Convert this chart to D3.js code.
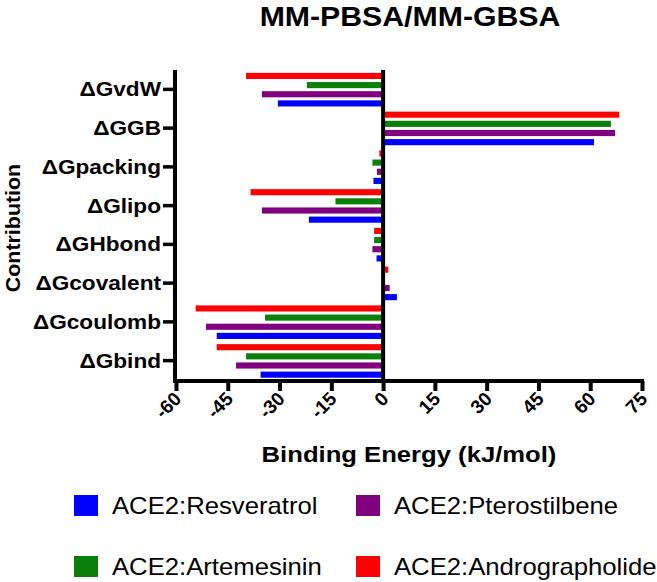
<!DOCTYPE html>
<html>
<head>
<meta charset="utf-8">
<script src="https://cdn.jsdelivr.net/npm/d3@7"></script>
<style>
  html, body { margin: 0; padding: 0; background: #fff; }
  svg { display: block; font-family: "Liberation Sans", Arial, sans-serif; }
</style>
</head>
<body>
<svg id="chart" width="657" height="582"></svg>
<script>
// ---- data ----
const categories = ["ΔGvdW", "ΔGGB", "ΔGpacking", "ΔGlipo", "ΔGHbond", "ΔGcovalent", "ΔGcoulomb", "ΔGbind"];
const seriesNames = ["ACE2:Resveratrol", "ACE2:Pterostilbene", "ACE2:Artemesinin", "ACE2:Andrographolide"];
const seriesColors = ["#0000ff", "#800080", "#0a800a", "#ff0000"];
const resveratrol     = [-30.5, 61.1, -2.8, -21.5, -1.9, 4.0, -48.2, -35.5];
const pterostilbene   = [-35.1, 67.2, -1.8, -35.1, -3.1, 1.9, -51.3, -42.6];
const artemesinin     = [-22.1, 66.0, -3.1, -13.8, -2.6, 0.5, -34.2, -39.7];
const andrographolide = [-39.7, 68.4, -1.1, -38.4, -2.6, 1.5, -54.3, -48.2];
const xTicks = [-60, -45, -30, -15, 0, 15, 30, 45, 60, 75];
const xTickLabels = ["-60", "-45", "-30", "-15", "0", "15", "30", "45", "60", "75"];
const seriesValues = [resveratrol, pterostilbene, artemesinin, andrographolide];

// ---- layout ----
const svg = d3.select("#chart");
const plotLeft = 176, plotRight = 642, plotTop = 70, plotBottom = 381;

const x = d3.scaleLinear().domain([-60, 75]).range([plotLeft, plotRight]);
const y = d3.scaleBand().domain(categories).range([plotTop, plotBottom - 1]).paddingInner(0).paddingOuter(0);
// series order top->bottom inside each band: last series on top
const inner = d3.scaleBand().domain(d3.range(4).reverse()).range([0, 33.6]).paddingInner(0.33).paddingOuter(0);

function stretched(parent, tx, ty, txt, size, sx, anchor, weight, rot) {
  const g = parent.append("g").attr("transform", `translate(${tx},${ty}) rotate(${rot || 0}) scale(${sx},1)`);
  return g.append("text").attr("text-anchor", anchor).attr("font-size", size)
    .attr("font-weight", weight).attr("fill", "#000").text(txt);
}

// ---- bars ----
const rows = [];
seriesValues.forEach((vals, si) => vals.forEach((v, ci) => rows.push({ si, cat: categories[ci], v })));
svg.append("g").selectAll("rect").data(rows).join("rect")
  .attr("x", d => Math.min(x(0), x(d.v)))
  .attr("width", d => Math.abs(x(d.v) - x(0)))
  .attr("y", d => y(d.cat) + y.bandwidth() / 2 - 16.8 + inner(d.si) + 0.3)
  .attr("height", inner.bandwidth())
  .attr("fill", d => seriesColors[d.si]);

// ---- axes ----
const lw = 4;
// x axis
const xAxis = svg.append("g").attr("transform", `translate(0,${plotBottom})`)
  .call(d3.axisBottom(x).tickValues(xTicks).tickSize(10).tickSizeOuter(0)
    .tickFormat((d, i) => xTickLabels[i]));
xAxis.select(".domain").remove();
xAxis.selectAll(".tick line").attr("stroke", "#000").attr("stroke-width", lw);
xAxis.selectAll(".tick text")
  .attr("x", 0).attr("y", 0).attr("dy", 0)
  .attr("transform", "translate(6,19) rotate(-45)")
  .attr("text-anchor", "end")
  .attr("font-size", 19).attr("font-weight", "bold")
  .attr("font-family", "'Liberation Sans', Arial, sans-serif").attr("fill", "#000");
svg.append("line").attr("x1", plotLeft - 3).attr("x2", plotRight + 2)
  .attr("y1", plotBottom).attr("y2", plotBottom).attr("stroke", "#000").attr("stroke-width", lw);

// y axis
const yAxis = svg.append("g").attr("transform", `translate(${plotLeft - 1},0)`)
  .call(d3.axisLeft(y).tickSize(12).tickSizeOuter(0));
yAxis.select(".domain").remove();
yAxis.selectAll(".tick line").attr("stroke", "#000").attr("stroke-width", 3.5);
yAxis.selectAll(".tick text")
  .attr("x", 0).attr("dy", "0.36em")
  .attr("transform", "translate(-14,0) scale(1.16,1)")
  .attr("font-size", 19.5).attr("font-weight", "bold")
  .attr("font-family", "'Liberation Sans', Arial, sans-serif").attr("fill", "#000");
svg.append("line").attr("x1", plotLeft - 1).attr("x2", plotLeft - 1)
  .attr("y1", plotTop).attr("y2", plotBottom + 2).attr("stroke", "#000").attr("stroke-width", lw);

// zero line
svg.append("line").attr("x1", x(0)).attr("x2", x(0))
  .attr("y1", plotTop).attr("y2", plotBottom).attr("stroke", "#000").attr("stroke-width", lw);

// ---- titles ----
stretched(svg, 410, 26, "MM-PBSA/MM-GBSA", 27.5, 1.1, "middle", "bold");
stretched(svg, 409, 462, "Binding Energy (kJ/mol)", 22.3, 1.15, "middle", "bold");
stretched(svg, 20, 228, "Contribution", 20, 1.07, "middle", "bold", -90);

// ---- legend ----
const legendPos = [[74, 495], [356, 495], [74, 556], [356, 556]];
seriesNames.forEach((name, i) => {
  const [lx, ly] = legendPos[i];
  svg.append("rect").attr("x", lx).attr("y", ly).attr("width", 24).attr("height", 21).attr("fill", seriesColors[i]);
  stretched(svg, lx + 38, ly + 18.5, name, 24, 1.07, "start", "normal");
});
</script>
</body>
</html>
